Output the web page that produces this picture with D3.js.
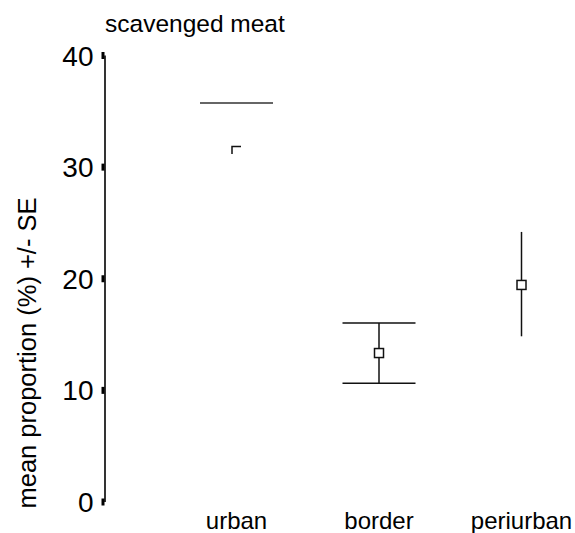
<!DOCTYPE html>
<html>
<head>
<meta charset="utf-8">
<script src="https://cdn.jsdelivr.net/npm/d3@7"></script>
<style>
  body { margin: 0; background: #fff; }
  text { font-family: "Liberation Sans", Arial, sans-serif; fill: #000; }
</style>
</head>
<body>
<svg id="chart" width="575" height="533"></svg>
<script>
var categories = ["urban", "border", "periurban"];
var means = [31.4, 13.3, 19.4];
var upper = [35.7, 16.0, 24.15];
var lower = [null, 10.6, 14.8];
var capped = [true, true, false];
var yTicks = [0, 10, 20, 30, 40];

var svg = d3.select("#chart");

var x = d3.scalePoint()
    .domain(categories)
    .range([236.5, 521.5]);

var y = d3.scaleLinear()
    .domain([0, 40])
    .range([501.5, 55]);

// y axis: short thick stubs, no outer ticks
var yAxis = svg.append("g")
    .attr("transform", "translate(104.5,0)")
    .call(d3.axisLeft(y).tickValues(yTicks).tickSize(3).tickSizeOuter(0).tickPadding(8));
yAxis.select(".domain").attr("stroke", "#000").attr("stroke-width", 1.6);
yAxis.selectAll(".tick line").attr("stroke", "#000").attr("stroke-width", 7);
yAxis.selectAll(".tick text")
    .style("font-family", "Liberation Sans, Arial, sans-serif")
    .style("font-size", "28px")
    .attr("dy", "0.36em");

svg.append("text")
    .attr("x", 105)
    .attr("y", 32)
    .style("font-size", "24.5px")
    .text("scavenged meat");

svg.append("text")
    .attr("transform", "translate(36,353) rotate(-90)")
    .attr("text-anchor", "middle")
    .style("font-size", "25.5px")
    .text("mean proportion (%) +/- SE");

svg.selectAll(".cat")
    .data(categories)
    .enter().append("text")
    .attr("class", "cat")
    .attr("x", function(d) { return x(d); })
    .attr("y", 529)
    .attr("text-anchor", "middle")
    .style("font-size", "24px")
    .text(function(d) { return d; });

var capHalf = 36.5, box = 9;

var g = svg.selectAll(".bar")
    .data(categories)
    .enter().append("g")
    .attr("class", "bar")
    .attr("stroke", "#111")
    .attr("stroke-width", 1.5)
    .attr("fill", "none");

g.each(function(d, i) {
  var el = d3.select(this), cx = x(d);
  if (lower[i] != null) {
    el.append("line")
      .attr("x1", cx).attr("x2", cx)
      .attr("y1", y(upper[i])).attr("y2", y(lower[i]));
  }
  if (capped[i]) {
    [upper[i], lower[i]].forEach(function(v) {
      if (v == null) return;
      el.append("line")
        .attr("x1", cx - capHalf).attr("x2", cx + capHalf)
        .attr("y1", y(v)).attr("y2", y(v))
        .attr("stroke", i === 0 ? "#333" : "#111");
    });
  }
  var cy = y(means[i]);
  if (lower[i] != null) {
    el.append("rect")
      .attr("x", cx - box / 2).attr("y", cy - box / 2)
      .attr("width", box).attr("height", box)
      .attr("fill", "#fff");
  } else {
    // only the top-left corner of the marker is drawn here
    el.append("path")
      .attr("d", "M" + (cx - box / 2) + "," + (cy + 3) +
                 "V" + (cy - box / 2) + "H" + (cx + box / 2));
  }
});
</script>
</body>
</html>
